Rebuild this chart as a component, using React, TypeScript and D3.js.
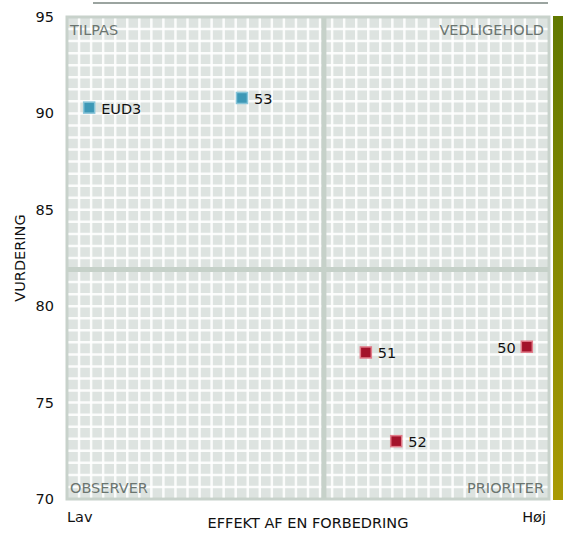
import React from "react";
import * as d3 from "d3";

const names = ["EUD3", "53", "51", "52", "50"];
const effekt = [4.6, 36.3, 62.0, 68.3, 95.4];
const vurdering = [90.3, 90.8, 77.6, 73.0, 77.9];
const labelSide = ["right", "right", "right", "right", "left"];
const yTicks = [70, 75, 80, 85, 90, 95];
const quadrantLabels = ["TILPAS", "VEDLIGEHOLD", "OBSERVER", "PRIORITER"];
const xMid = 53.3;
const yMid = 81.9;

const W = 563;
const H = 534;
const left = 67, right = 549, top = 17, bottom = 499;
const FONT = "'DejaVu Sans', Verdana, sans-serif";

export default function App() {
  const x = d3.scaleLinear().domain([0, 100]).range([left, right]);
  const y = d3.scaleLinear().domain([70, 95]).range([bottom, top]);
  const gx = d3.range(1, 40).map((i) => x(i * 2.5));
  const gy = d3.range(1, 40).map((i) => y(70 + i * 0.625));
  const colorOf = (v: number) => (v > yMid ? "#3d98b6" : "#a3122a");
  const strokeOf = (v: number) => (v > yMid ? "#86c4d8" : "#e17b89");
  return (
    <svg width={W} height={H} style={{ position: "absolute", left: 0, top: 0, fontFamily: FONT }}>
      <defs>
        <linearGradient id="grad" x1="0" y1="0" x2="0" y2="1">
          <stop offset="0%" stopColor="#617800" />
          <stop offset="100%" stopColor="#a99a04" />
        </linearGradient>
      </defs>
      <line x1={93} x2={548} y1={3} y2={3} stroke="#9ba4a0" strokeWidth={2} />
      <rect x={left} y={top} width={right - left} height={bottom - top} fill="#dde3e0" stroke="#c8d2cb" strokeWidth={3} />
      {gx.map((p, i) => (
        <line key={"gx" + i} x1={p} x2={p} y1={top + 1.5} y2={bottom - 1.5} stroke="#ffffff" strokeWidth={2.5} opacity={0.9} />
      ))}
      {gy.map((p, i) => (
        <line key={"gy" + i} x1={left + 1.5} x2={right - 1.5} y1={p} y2={p} stroke="#ffffff" strokeWidth={2.5} opacity={0.9} />
      ))}
      <line x1={x(xMid)} x2={x(xMid)} y1={top} y2={bottom} stroke="#c6d1c9" strokeWidth={5} />
      <line x1={left} x2={right} y1={y(yMid)} y2={y(yMid)} stroke="#c6d1c9" strokeWidth={5} />
      <rect x={553} y={top - 1} width={12} height={bottom - top + 2} fill="url(#grad)" />
      <g fill="#6b7570" fontSize={14.5}>
        <text x={left + 3} y={top + 18}>{quadrantLabels[0]}</text>
        <text x={right - 5} y={top + 18} textAnchor="end">{quadrantLabels[1]}</text>
        <text x={left + 3} y={bottom - 6}>{quadrantLabels[2]}</text>
        <text x={right - 5} y={bottom - 6} textAnchor="end">{quadrantLabels[3]}</text>
      </g>
      {yTicks.map((t) => (
        <text key={t} x={54} y={y(t) + 5} textAnchor="end" fontSize={14.5} fill="#111">{t}</text>
      ))}
      <text transform={`translate(25,${(top + bottom) / 2}) rotate(-90)`} textAnchor="middle" fontSize={14.5} fill="#111">VURDERING</text>
      <text x={(left + right) / 2} y={528} textAnchor="middle" fontSize={14.5} fill="#111">EFFEKT AF EN FORBEDRING</text>
      <text x={left} y={522} fontSize={14.5} fill="#111">Lav</text>
      <text x={right - 3} y={522} textAnchor="end" fontSize={14.5} fill="#111">Høj</text>
      {names.map((n, i) => {
        const cx = x(effekt[i]);
        const cy = y(vurdering[i]);
        const side = labelSide[i];
        return (
          <g key={n}>
            <rect x={cx - 5.5} y={cy - 5.5} width={11} height={11} fill={colorOf(vurdering[i])} stroke={strokeOf(vurdering[i])} strokeWidth={1.5} />
            <text x={side === "right" ? cx + 12 : cx - 11} y={cy + 6} textAnchor={side === "right" ? "start" : "end"} fontSize={14.5} fill="#111">{n}</text>
          </g>
        );
      })}
    </svg>
  );
}
